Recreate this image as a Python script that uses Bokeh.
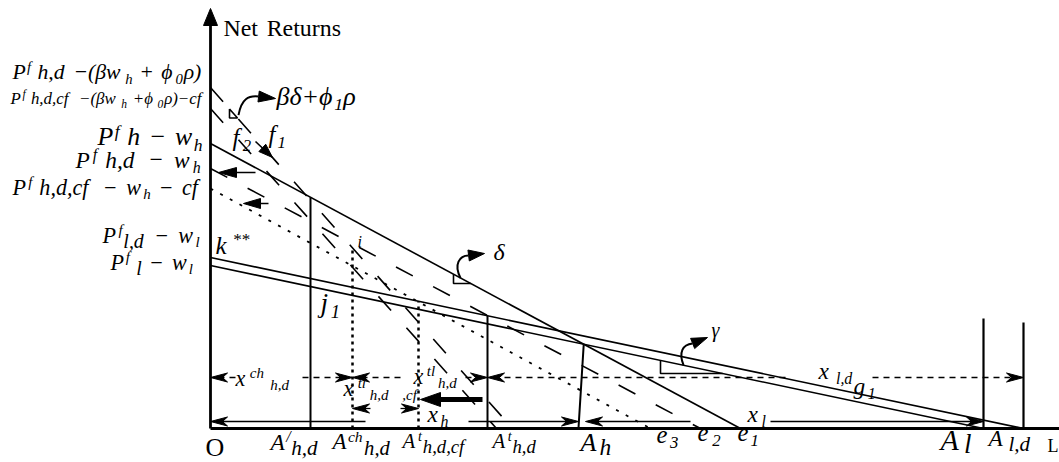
import math
from bokeh.plotting import figure
from bokeh.models import Range1d
from bokeh.core.properties import value
from bokeh.embed import file_html
from bokeh.resources import INLINE

# ---------------------------------------------------------------------------
# Diagram values (distance / net-return units, origin at O)
# ---------------------------------------------------------------------------
point_keys = ["A1_hd", "Ach_hd", "At_hdcf", "At_hd", "A_h", "e3", "e2", "e1", "A_l", "A_ld"]
point_x = [100, 142, 208, 277, 368, 440, 490, 530, 773, 813]
X = dict(zip(point_keys, point_x))

# net-return lines: value at O and distance at which they reach zero
curve_keys = ["h", "h_d", "h_d_cf", "f1", "f2", "l_d", "l"]
curve_y0 = [285, 260, 240, 341, 320, 171, 163]
curve_x0 = [X["e1"], X["e2"], X["e3"], 302, 286, X["A_ld"], X["A_l"]]
curve_dash = ["solid", "19 23", "3 8", "19 23", "19 23", "solid", "solid"]
curve_width = [1.6, 1.6, 1.8, 1.6, 1.6, 1.6, 1.6]

# heights of the boundary lines drawn at A_l and A_l,d
boundary_keys = ["A_l", "A_ld"]
boundary_top = [110, 106]

C = {k: (y0, x0) for k, y0, x0 in zip(curve_keys, curve_y0, curve_x0)}


def val(k, x):
    y0, x0 = C[k]
    return y0 * (1 - x / x0)


def dist(k, y):
    y0, x0 = C[k]
    return x0 * (1 - y / y0)


def cross(a, b):
    ya, xa = C[a]
    yb, xb = C[b]
    x = (ya - yb) / (ya / xa - yb / xb)
    return x, val(a, x)


# ---------------------------------------------------------------------------
# Figure: one unit = one screen pixel
# ---------------------------------------------------------------------------
OX, OY = 210, 428          # screen position of O
W_PX, H_PX = 1059, 462
p = figure(width=W_PX, height=H_PX, title=None,
           x_range=Range1d(-OX, W_PX - OX), y_range=Range1d(OY - H_PX, OY),
           output_backend="svg", toolbar_location=None, min_border=0,
           x_axis_location=None, y_axis_location=None)
p.grid.grid_line_color = None
p.outline_line_color = None
p.background_fill_color = "white"
p.border_fill_color = "white"

INK = "black"
head_xs, head_ys = [], []


def head(tx, ty, dx, dy, length=17, half=4.5, notch=0.3):
    n = math.hypot(dx, dy)
    ux, uy = dx / n, dy / n
    nx, ny = -uy, ux
    bx, by = tx - ux * length, ty - uy * length
    mx, my = tx - ux * length * (1 - notch), ty - uy * length * (1 - notch)
    head_xs.append([tx, bx + nx * half, mx, bx - nx * half])
    head_ys.append([ty, by + ny * half, my, by - ny * half])


def arrow(x0, y0, x1, y1, width=1.3, dash="solid", length=17, half=4.5, notch=0.3):
    dx, dy = x1 - x0, y1 - y0
    n = math.hypot(dx, dy)
    cut = min(length * 0.6, n)
    ex, ey = x1 - dx / n * cut, y1 - dy / n * cut
    p.line([x0, ex], [y0, ey], line_width=width, line_dash=dash, color=INK)
    head(x1, y1, dx, dy, length, half, notch)


# axes
p.line([0, W_PX - OX], [0, 0], line_width=2.8, color=INK)
p.line([0, 0], [0, 405], line_width=2.8, color=INK)
head(0, 420, 0, 1, length=17, half=7, notch=0)

# net-return lines
for k, d, w in zip(curve_keys, curve_dash, curve_width):
    y0, x0 = C[k]
    p.line([0, x0], [y0, 0], line_width=w, line_dash=d, color=INK)

# vertical lines at the distance thresholds
p.line([X["A1_hd"]] * 2, [0, val("h", X["A1_hd"])], line_width=2, color=INK)
p.line([X["Ach_hd"]] * 2, [0, val("f1", X["Ach_hd"])], line_width=2.5, line_dash="3 4", color=INK)
p.line([X["At_hdcf"]] * 2, [0, val("l_d", X["At_hdcf"])], line_width=2.5, line_dash="3 4", color=INK)
p.line([X["At_hd"]] * 2, [0, val("l_d", X["At_hd"])], line_width=2, color=INK)
kx, ky = cross("h", "l")
p.line([X["A_h"], kx], [0, ky], line_width=2, color=INK)
for k, top in zip(boundary_keys, boundary_top):
    p.line([X[k]] * 2, [0, top], line_width=2.2, color=INK)

# right-angle marks for the slopes
bx0 = 19
p.line([bx0, bx0, dist("f1", 310.5), bx0], [val("f1", bx0), 310.5, 310.5, val("f1", bx0)],
       line_width=1.6, color=INK)
dx0 = 243
p.line([dx0, dx0, dist("h", 145)], [val("h", dx0), 145, 145], line_width=1.6, color=INK)
gx0 = 450
p.line([gx0, gx0, dist("l", 55)], [val("l", gx0), 55, 55], line_width=1.6, color=INK)

# curved pointers
cs = (28, val("f1", 28) + 4)
p.bezier(x0=[cs[0]], y0=[cs[1]], cx0=[31], cy0=[330], cx1=[38], cy1=[333], x1=[48], y1=[332],
         line_width=2, color=INK)
head(65, 330, 17, -2, length=17, half=5.5, notch=0)
ds = (250, val("h", 250))
p.bezier(x0=[ds[0]], y0=[ds[1]], cx0=[243], cy0=[164], cx1=[249], cy1=[173], x1=[258], y1=[173],
         line_width=2, color=INK)
head(274, 175, 16, 2, length=16, half=5.5, notch=0)
gs = (473, val("l", 473))
p.bezier(x0=[gs[0]], y0=[gs[1]], cx0=[468], cy0=[76], cx1=[472], cy1=[84], x1=[482], y1=[85],
         line_width=2, color=INK)
head(497, 91, 15, 6, length=16, half=5.5, notch=0)

# shift arrows next to the vertical axis
arrow(45, 256, 8, 256, width=1.6, length=18, half=5, notch=0)
arrow(58, 225, 33, 225, width=1.6, length=17, half=5, notch=0)
arrow(45, 287, 62, 271, width=1.6, length=14, half=5, notch=0)

# dimension arrows
ROW1, ROW2, ROW3 = 51, 20, 7
arrow(25, ROW1, 0, ROW1, dash="6 5")
arrow(92, ROW1, X["Ach_hd"], ROW1, dash="6 5")
arrow(190, ROW1, X["Ach_hd"], ROW1, dash="6 5")
arrow(255, ROW1, X["At_hd"], ROW1, dash="6 5")
arrow(575, ROW1, X["At_hd"], ROW1, dash="6 5")
arrow(662, ROW1, X["A_ld"], ROW1, dash="6 5")
arrow(X["Ach_hd"] + 18, ROW2, X["Ach_hd"], ROW2)
arrow(X["At_hdcf"] - 18, ROW2, X["At_hdcf"], ROW2)
arrow(155, ROW3, 0, ROW3, width=1.6)
arrow(258, ROW3, X["A_h"], ROW3, width=1.6)
arrow(480, ROW3, X["A_h"] + 7, ROW3, width=1.6)
arrow(560, ROW3, X["A_l"], ROW3, width=1.6)
arrow(272, 29, X["At_hdcf"] + 2, 29, width=5, length=20, half=7, notch=0)

p.patches(head_xs, head_ys, fill_color=INK, line_color=INK, line_width=1)

# ---------------------------------------------------------------------------
# Labels (screen positions: left edge, baseline)
# ---------------------------------------------------------------------------
CW = {" ": .25, "(": .333, ")": .333, "+": .675, ",": .25, "/": .278, "*": .5,
      "−": .675, "A": .611, "O": .722, "P": .611, "N": .667, "R": .611, "L": .556,
      "c": .444, "d": .5, "e": .444, "f": .278, "g": .5, "h": .5, "i": .278, "j": .278,
      "k": .444, "l": .278, "n": .5, "r": .389, "s": .389, "t": .278, "u": .5, "w": .667,
      "x": .444, "β": .5, "δ": .45, "ϕ": .6, "ρ": .5, "γ": .43}
ROLE = {"n": (1.0, 0.0), "sup": (0.68, 0.36), "sub": (0.68, -0.2),
        "low": (0.9, -0.24), "lo2": (0.9, -0.12)}
LIFT = 0.38   # baseline correction of the rendered text, in em
pieces = {}


def em(s):
    return sum(CW.get(c, .5) for c in s)


def label(left, base, parts, size, span=None, upright=False, grow=1.3):
    def layout(sz0):
        out, cur = [], 0.0
        for s, role in parts:
            f, rise = ROLE[role]
            sz = sz0 * f
            toks = s.split(" ")
            for j, tok in enumerate(toks):
                if tok:
                    out.append((cur, tok, sz, rise * sz0))
                    cur += em(tok) * sz
                if j < len(toks) - 1:
                    cur += CW[" "] * sz
        return out, cur

    out, cur = layout(size)
    if span:
        fit = span / (cur / size * 1.1)
        size2 = max(min(fit, size * grow), size * 0.8)
        out, cur = layout(size2)
    k = span / cur if span else 1.0
    for off, tok, sz, r in out:
        key = (round(sz, 1), "normal" if upright else "italic")
        d = pieces.setdefault(key, {"x": [], "y": [], "t": []})
        d["x"].append(left + off * k - OX)
        d["y"].append(OY - (base - r) + LIFT * sz)
        d["t"].append(tok)


label(223, 37, [("Net Returns", "n")], 21, span=125, upright=True, grow=1.15)

# vertical-axis labels
label(12, 80, [("P", "n"), ("f", "sup"), (" h,d −(βw", "n"), ("h", "sub"), (" + ϕ", "n"),
               ("0", "sub"), ("ρ)", "n")], 19, span=191)
label(10, 104, [("P", "n"), ("f", "sup"), (" h,d,cf −(βw", "n"), ("h", "sub"), (" +ϕ", "n"),
                ("0", "sub"), ("ρ)−cf", "n")], 13, span=197)
label(97, 146, [("P", "n"), ("f", "sup"), (" h − w", "n"), ("h", "sub")], 20, span=106)
label(75, 168, [("P", "n"), ("f", "sup"), (" h,d − w", "n"), ("h", "sub")], 18, span=127)
label(12, 195, [("P", "n"), ("f", "sup"), (" h,d,cf − w", "n"), ("h", "sub"), (" − cf", "n")],
      17, span=188)
label(102, 243, [("P", "n"), ("f", "sup"), ("l,d", "low"), (" − w", "n"), ("l", "sub")], 17, span=98)
label(110, 270, [("P", "n"), ("f", "sup"), (" l", "low"), (" − w", "n"), ("l", "sub")], 17, span=83)

# labels inside the diagram
label(276, 106, [("βδ+ϕ", "n"), ("1", "sub"), ("ρ", "n")], 26)
label(232, 146, [("f", "n"), ("2", "sub")], 19, span=23)
label(268, 143, [("f", "n"), ("1", "sub")], 19, span=20)
label(493, 261, [("δ", "n")], 24)
label(711, 337, [("γ", "n")], 20)
label(357, 247, [("i", "n")], 16)
label(320, 313, [("j", "n"), ("1", "sub")], 21, span=23)
label(215, 254, [("k", "n"), ("**", "sup")], 25, span=43, grow=1.0)
label(235, 386, [("x", "n"), ("ch", "sup"), ("h,d", "sub")], 17, span=62)
label(413, 384, [("x", "n"), ("tl", "sup"), ("h,d", "sub")], 17, span=50)
label(343, 396, [("x", "n"), ("tl", "sup"), ("h,d ,cf", "sub")], 17, span=80)
label(427, 422, [("x", "n"), ("h", "sub")], 18, span=23)
label(747, 422, [("x", "n"), ("l", "sub")], 18, span=20)
label(818, 379, [("x", "n"), ("l,d", "sub")], 18, span=45)
label(853, 394, [("g", "n"), ("1", "sub")], 18, span=24)

# distance-axis labels
label(205, 457, [("O", "n")], 26, upright=True)
label(270, 450, [("A", "n"), ("/", "sup"), ("h,d", "low")], 18, span=50)
label(332, 450, [("A", "n"), ("ch", "sup"), ("h,d", "low")], 18, span=60)
label(402, 448, [("A", "n"), ("t", "sup"), ("h,d,cf", "low")], 16, span=71)
label(492, 448, [("A", "n"), ("t", "sup"), ("h,d", "low")], 16, span=48)
label(580, 452, [("A", "n"), ("h", "lo2")], 20, span=33)
label(656, 443, [("e", "n"), ("3", "sub")], 19, span=24)
label(697, 441, [("e", "n"), ("2", "sub")], 19, span=26)
label(737, 441, [("e", "n"), ("1", "sub")], 19, span=23)
label(940, 450, [("A", "n"), ("l", "lo2")], 23, span=33)
label(988, 446, [("A", "n"), ("l,d", "low")], 18, span=50)
label(1047, 452, [("L", "n")], 18, upright=True)

for (sz, style), d in pieces.items():
    p.text(x=d["x"], y=d["y"], text=d["t"], text_font=value("Liberation Serif"),
           text_font_style=style, text_font_size=value(f"{sz}px"),
           text_baseline="alphabetic", text_align="left", text_color=INK)

open("out.html", "w").write(file_html(p, INLINE))
